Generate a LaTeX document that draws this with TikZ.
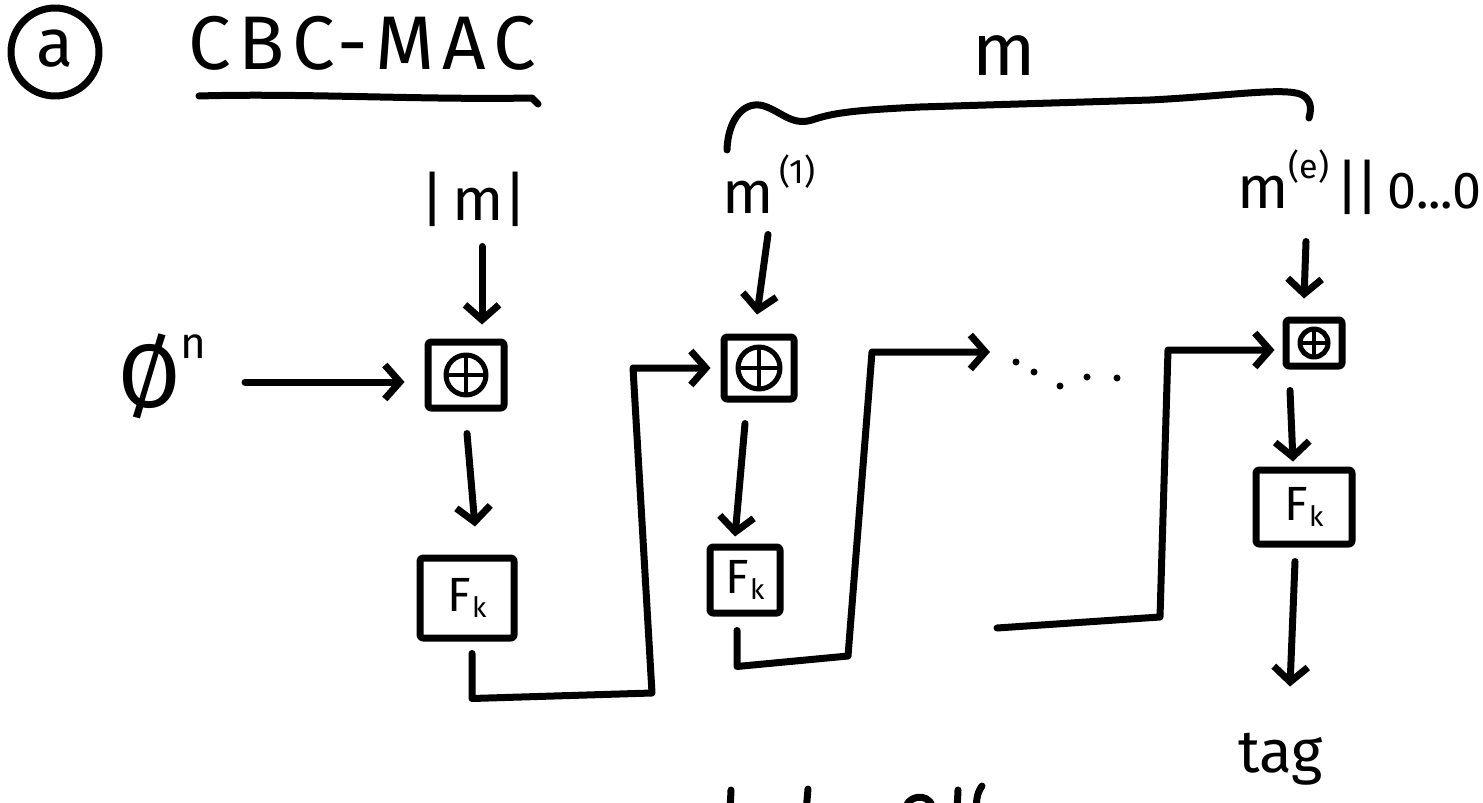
\documentclass[tikz,border=0pt]{standalone}
\usepackage{fontspec}
\setmainfont{Fira Sans}
\usetikzlibrary{arrows.meta,calc}

\tikzset{
  ink/.style={line width=7pt, line cap=round, line join=round},
  arr/.style={ink, -{Straight Barb[length=15pt,width=34pt]}},
  gate/.style={ink, draw, rectangle, rounded corners=3pt, inner sep=0pt},
  fbox/.style={gate, font=\fontsize{48}{48}\selectfont},
  lbl/.style={inner sep=0pt, font=\fontsize{60}{60}\selectfont},
  dot/.style={fill, circle, inner sep=0pt, minimum size=7pt},
}

\newcommand\Fkey{F\kern1pt\raisebox{-0.12em}{\fontsize{28}{28}\selectfont k}}
\newcommand\supr[2]{\smash{\raisebox{#1}{\fontsize{34}{34}\selectfont #2}}}

\begin{document}
\begin{tikzpicture}[x=1pt,y=-1pt]
\useasboundingbox (0,0) rectangle (1483,803);

% heading
\node[ink, draw, circle, minimum size=88pt, inner sep=0pt,
      font=\fontsize{68}{68}\selectfont] (part) at (55,52) {\raisebox{0.12em}{a}};
\node[lbl, anchor=base west, font=\fontsize{76}{76}\selectfont\addfontfeature{LetterSpace=10}]
  (title) at (188,69) {CBC-MAC};
\draw[ink] (199,96) .. controls (300,93) and (420,100) .. (532,98) -- (538,104);

% whole message and its blocks
\node[lbl, anchor=base west, font=\fontsize{74}{74}\selectfont] (msg) at (972,75) {m};
\draw[ink] (727,150) .. controls (728,118) and (745,100) .. (764,106)
  .. controls (782,112) and (792,126) .. (812,120)
  .. controls (835,112) and (860,110) .. (920,107)
  -- (1150,100) .. controls (1230,96) and (1290,86) .. (1304,96)
  .. controls (1312,102) and (1311,110) .. (1309,118);

\node[lbl, anchor=base west] (lenm) at (420,220) {|\hspace{8pt}m|};
\node[lbl, anchor=base west] (m1) at (722,213) {m\hspace{6pt}\supr{30pt}{(1)}};
\node[lbl, anchor=base west] (me) at (1237,208)
  {m\supr{30pt}{(e)}\hspace{6pt}|\kern-4pt|\hspace{8pt}{\fontsize{52}{52}\selectfont 0...0}};

% chain of xor gates and block cipher calls
\node[gate, minimum width=76pt, minimum height=66pt] (xor1) at (466,375) {};
\node[gate, minimum width=70pt, minimum height=62pt] (xor2) at (759,368) {};
\node[gate, minimum width=56pt, minimum height=46pt] (xor3) at (1314,343) {};
\foreach \g/\r in {xor1/20,xor2/21,xor3/14}{
  \draw[ink, line width=5pt] (\g.center) circle (\r pt);
  \draw[ink, line width=4pt] ([xshift=-\r pt]\g.center) -- ([xshift=\r pt]\g.center)
        ([yshift=-\r pt]\g.center) -- ([yshift=\r pt]\g.center);
}

\node[fbox, minimum width=94pt, minimum height=80pt] (F1) at (467,598) {\Fkey};
\node[fbox, minimum width=70pt, minimum height=66pt] (F2) at (745,580) {\Fkey};
\node[fbox, minimum width=96pt, minimum height=74pt] (F3) at (1304,507) {\Fkey};

% initial value
\node[lbl, anchor=base west, font=\fontsize{90}{90}\selectfont] (iv) at (118,407)
  {Ø\supr{49pt}{\fontsize{44}{44}\selectfont n}};
\coordinate (ivout) at (245,382);
\draw[arr] (ivout) -- ($(xor1.west |- ivout)+(-20,0)$);

% inputs from above
\draw[arr] ($(xor1.north)+(16,-92)$) -- ($(xor1.north)+(16,-14)$);
\draw[arr] ($(xor2.north)+(9,-99)$) -- ($(xor2.north)+(-2,-19)$);
\draw[arr] ($(xor3.north)+(-8,-75)$) -- ($(xor3.north)+(-10,-18)$);

% down through the block cipher
\draw[arr] ($(xor1.south)+(1,22)$) -- ($(F1.north)+(8,-28)$);
\draw[arr] ($(xor2.south)+(-14,21)$) -- ($(F2.north)+(-10,-7)$);
\draw[arr] ($(xor3.south)+(-24,21)$) -- ($(F3.north)+(-11,-5)$);
\draw[arr] ($(F3.south)+(-9,14)$) -- ($(F3.south)+(-14,139)$);

% chaining values
\draw[arr] ($(F1.south)+(5,12)$) -- ++(0,45) -- (652,693) -- (633,368)
  -- ($(xor2.west)+(-10,0)$);
\coordinate (dotsin) at (990,352);
\draw[arr] ($(F2.south)+(-8,14)$) -- ++(0,36) -- (848,656) -- (872,352) -- (dotsin);
\foreach \p in {(1016,362),(1034,372),(1060,386),(1087,377),(1117,378)}
  \node[dot] at \p {};
\coordinate (resume) at (997,628);
\draw[arr] (resume) -- (1160,617) -- (1168,350) -- ($(xor3.west)+(-8,7)$);

% result
\node[lbl, anchor=base west] (tag) at (1238,772) {tag};

% tops of a line of writing below the edge
\draw[ink] (731,790) -- (730,812);
\draw[ink] (808,789) -- (806,812);
\draw[ink] (905,812) .. controls (905,795) and (928,792) .. (932,806);
\draw[ink] (958,790) -- (957,812);
\draw[ink] (982,786) .. controls (976,794) and (976,804) .. (977,812);
\end{tikzpicture}
\end{document}
